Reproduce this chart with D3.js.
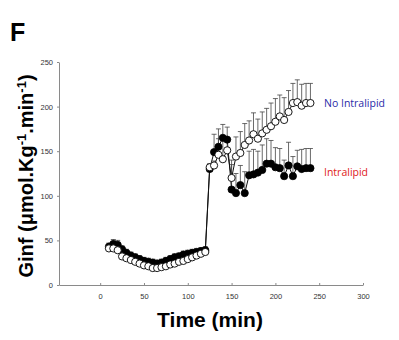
<!DOCTYPE html>
<html>
<head>
<meta charset="utf-8">
<script src="https://cdn.jsdelivr.net/npm/d3@7"></script>
<style>
  html, body { margin: 0; padding: 0; background: #fff; }
  svg { display: block; }
</style>
</head>
<body>
<svg id="chart" width="399" height="340"></svg>
<script>
// Sampling times (min)
const times = [10,15,20,25,30,35,40,45,50,55,60,65,70,75,80,85,90,95,100,105,110,115,120,
               125,130,135,140,145,150,155,160,165,170,175,180,185,190,195,200,205,210,215,220,225,230,235,240];

// Glucose infusion rate, No Intralipid group (mean and SEM)
const noIntralipid = [41,41,39,32,30,28,26,24,22,21,19,19,20,21,23,24,26,27,29,31,33,35,37,
                      132,134,146,141,151,120,144,148,157,162,169,164,170,174,178,183,189,185,194,204,205,201,204,204];
const noIntralipidErr = [3,3,3,3,3,3,3,3,3,3,3,3,3,3,3,3,3,3,3,3,3,3,3,
                         4,5,18,22,14,20,22,24,24,22,24,22,24,24,26,26,24,25,24,22,25,24,22,22];

// Glucose infusion rate, Intralipid group (mean and SEM)
const intralipid = [43,46,45,40,36,33,31,29,27,26,25,24,25,27,29,31,32,34,35,36,37,38,39,
                    130,149,155,165,163,107,103,112,103,123,124,126,129,136,136,132,131,122,134,122,133,130,131,131];
const intralipidErr = [4,5,5,4,4,4,4,4,4,4,4,4,4,4,4,4,4,4,4,4,4,4,4,
                       5,20,20,15,14,28,22,22,24,27,28,24,28,28,26,22,22,18,26,22,18,22,22,22];

const xTicks = [0,50,100,150,200,250,300];
const yTicks = [0,50,100,150,200,250];

const svg = d3.select("#chart");

const x = d3.scaleLinear().domain([-47, 300]).range([59, 363]);
const y = d3.scaleLinear().domain([0, 250]).range([285, 62]);

const axisColor = "#8a8a8a";

// Axes
const xAxis = svg.append("g")
  .attr("transform", `translate(0,${y(0)})`)
  .call(d3.axisBottom(x).tickValues(xTicks).tickSize(-2).tickPadding(9).tickSizeOuter(0));
const yAxis = svg.append("g")
  .attr("transform", `translate(${x(-47)},0)`)
  .call(d3.axisLeft(y).tickValues(yTicks).tickSize(2).tickPadding(4).tickSizeOuter(0));

[xAxis, yAxis].forEach(g => {
  g.select(".domain").attr("stroke", axisColor).attr("stroke-width", 1);
  g.selectAll(".tick line").attr("stroke", axisColor);
  g.selectAll(".tick text")
    .attr("fill", "#333")
    .style("font-family", "Liberation Sans, Arial, sans-serif")
    .style("font-size", "7.5px");
});

const rows = times.map((t, i) => ({
  t,
  a: noIntralipid[i], ae: noIntralipidErr[i],
  b: intralipid[i], be: intralipidErr[i]
}));

const line = key => d3.line().x(d => x(d.t)).y(d => y(d[key]));

function errorBars(key, errKey) {
  const g = svg.append("g").attr("stroke", "#444").attr("stroke-width", 0.8);
  g.selectAll("line.v").data(rows).join("line")
    .attr("x1", d => x(d.t)).attr("x2", d => x(d.t))
    .attr("y1", d => y(d[key])).attr("y2", d => y(d[key] + d[errKey]));
  g.selectAll("line.c").data(rows).join("line")
    .attr("x1", d => x(d.t) - 2.5).attr("x2", d => x(d.t) + 2.5)
    .attr("y1", d => y(d[key] + d[errKey])).attr("y2", d => y(d[key] + d[errKey]));
}

// Intralipid series (filled)
errorBars("b", "be");
svg.append("path").datum(rows)
  .attr("d", line("b")).attr("fill", "none").attr("stroke", "#111").attr("stroke-width", 1);

// No Intralipid series (open)
errorBars("a", "ae");
svg.append("path").datum(rows)
  .attr("d", line("a")).attr("fill", "none").attr("stroke", "#111").attr("stroke-width", 1);

svg.append("g").selectAll("circle").data(rows).join("circle")
  .attr("cx", d => x(d.t)).attr("cy", d => y(d.b)).attr("r", 3.6)
  .attr("fill", "#000").attr("stroke", "#000").attr("stroke-width", 0.8);

svg.append("g").selectAll("circle").data(rows).join("circle")
  .attr("cx", d => x(d.t)).attr("cy", d => y(d.a)).attr("r", 3.6)
  .attr("fill", "#fff").attr("stroke", "#000").attr("stroke-width", 0.9);

// Series labels
svg.append("text").attr("x", 324).attr("y", 107)
  .attr("fill", "#2a2aa8")
  .style("font-family", "Open Sans, Liberation Sans, sans-serif").style("font-size", "10.5px")
  .text("No Intralipid");
svg.append("text").attr("x", 324).attr("y", 176)
  .attr("fill", "#e02020")
  .style("font-family", "Open Sans, Liberation Sans, sans-serif").style("font-size", "10.5px")
  .text("Intralipid");

// Panel letter
svg.append("text").attr("x", 10).attr("y", 41)
  .style("font-family", "Liberation Sans, Arial, sans-serif")
  .style("font-weight", "bold").style("font-size", "25px")
  .text("F");

// Axis titles
svg.append("text").attr("x", 210).attr("y", 327).attr("text-anchor", "middle")
  .style("font-family", "Liberation Sans, Arial, sans-serif")
  .style("font-weight", "bold").style("font-size", "21px")
  .text("Time (min)");

const yt = svg.append("text")
  .attr("transform", "translate(33,176) rotate(-90)")
  .attr("text-anchor", "middle")
  .style("font-family", "Liberation Sans, Arial, sans-serif")
  .style("font-weight", "bold").style("font-size", "20px");
yt.append("tspan").text("Ginf (μmol.Kg");
yt.append("tspan").attr("dy", -7).style("font-size", "13px").text("-1");
yt.append("tspan").attr("dy", 7).text(".min");
yt.append("tspan").attr("dy", -7).style("font-size", "13px").text("-1");
yt.append("tspan").attr("dy", 7).text(")");
</script>
</body>
</html>
